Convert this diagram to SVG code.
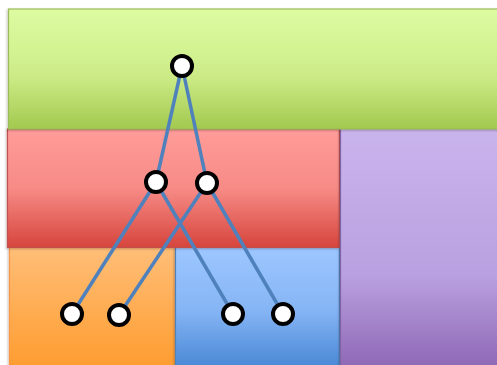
<svg xmlns="http://www.w3.org/2000/svg" width="497" height="365" viewBox="0 0 497 365">
<defs>
<linearGradient id="gGreen" x1="0" y1="0" x2="0" y2="1"><stop offset="0" stop-color="#ddfca2"/><stop offset="0.55" stop-color="#cdec88"/><stop offset="1" stop-color="#a3c94f"/></linearGradient>
<linearGradient id="gRed" x1="0" y1="0" x2="0" y2="1"><stop offset="0" stop-color="#ff9c99"/><stop offset="0.5" stop-color="#f78b86"/><stop offset="1" stop-color="#d6453d"/></linearGradient>
<linearGradient id="gPurple" x1="0" y1="0" x2="0" y2="1"><stop offset="0" stop-color="#cab4ed"/><stop offset="0.6" stop-color="#b9a0e0"/><stop offset="1" stop-color="#8c64b3"/></linearGradient>
<linearGradient id="gOrange" x1="0" y1="0" x2="0" y2="1"><stop offset="0" stop-color="#ffbe78"/><stop offset="1" stop-color="#ff9b2d"/></linearGradient>
<linearGradient id="gBlue" x1="0" y1="0" x2="0" y2="1"><stop offset="0" stop-color="#9dc7ff"/><stop offset="0.5" stop-color="#86b5f5"/><stop offset="1" stop-color="#4585d3"/></linearGradient>
<filter id="sh" x="-5%" y="-5%" width="110%" height="110%"><feDropShadow dx="-1" dy="1" stdDeviation="1" flood-color="#000" flood-opacity="0.25"/></filter>
</defs>
<style>
.node circle{fill:#fff;stroke:#000;stroke-width:4}
.edge{stroke:#4f81bd;stroke-width:3.5;fill:none}
.region{stroke-width:1.2}
</style>
<g id="regions">
<rect id="orange" class="region" x="9.5" y="247" width="166" height="125" fill="url(#gOrange)" stroke="#f79646" filter="url(#sh)"/>
<rect id="blue" class="region" x="175.5" y="247" width="164" height="125" fill="url(#gBlue)" stroke="#4f81bd" filter="url(#sh)"/>
<rect id="red" class="region" x="7.5" y="129" width="332" height="118.5" fill="url(#gRed)" stroke="#c0504d" filter="url(#sh)"/>
<rect id="purple" class="region" x="340.5" y="128.5" width="165" height="245" fill="url(#gPurple)" stroke="#8064a2" filter="url(#sh)"/>
<rect id="green" class="region" x="8.5" y="9" width="496" height="120" fill="url(#gGreen)" stroke="#9bbb59" filter="url(#sh)"/>
</g>
<g id="connectors">
<line class="edge" x1="182" y1="66" x2="156" y2="182"/>
<line class="edge" x1="182" y1="66" x2="207" y2="183"/>
<line class="edge" x1="156" y1="182" x2="72" y2="314"/>
<line class="edge" x1="156" y1="182" x2="233" y2="314"/>
<line class="edge" x1="207" y1="183" x2="119" y2="315"/>
<line class="edge" x1="207" y1="183" x2="283" y2="314"/>
</g>
<g id="n0" class="node"><circle cx="182" cy="66" r="10"/></g>
<g id="n1" class="node"><circle cx="156" cy="182" r="10"/></g>
<g id="n2" class="node"><circle cx="207" cy="183" r="10"/></g>
<g id="n3" class="node"><circle cx="72" cy="314" r="10"/></g>
<g id="n4" class="node"><circle cx="119" cy="315" r="10"/></g>
<g id="n5" class="node"><circle cx="233" cy="314" r="10"/></g>
<g id="n6" class="node"><circle cx="283" cy="314" r="10"/></g>
</svg>
